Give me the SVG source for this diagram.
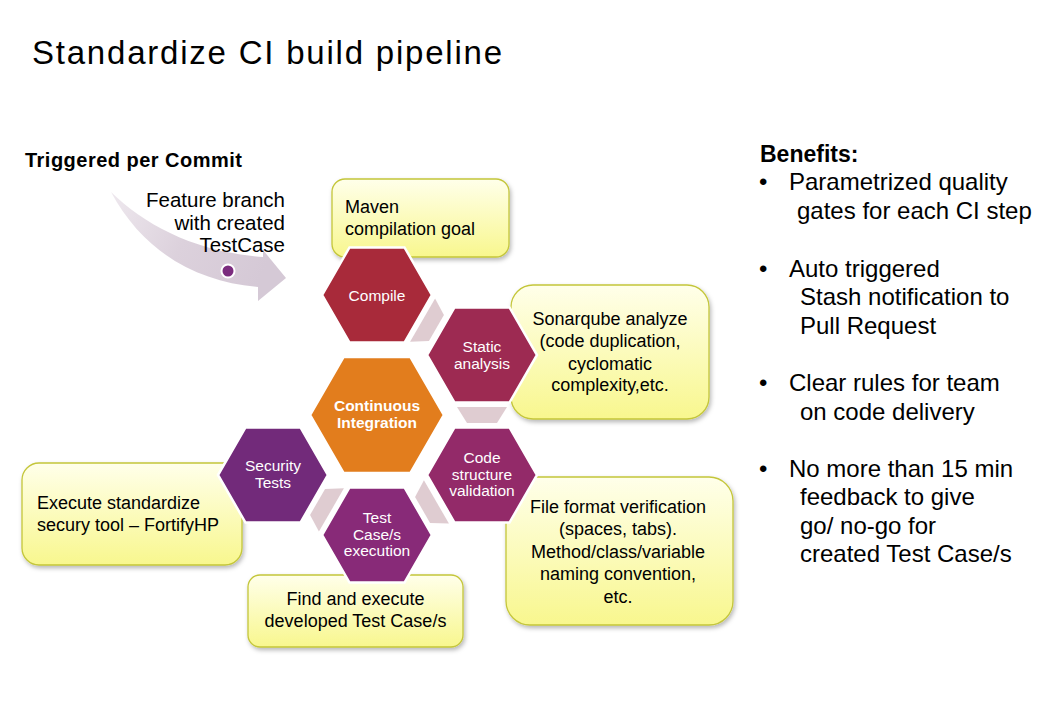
<svg xmlns="http://www.w3.org/2000/svg" width="1040" height="720" viewBox="0 0 1040 720">
<defs>
  <linearGradient id="yel" x1="0" y1="0" x2="0" y2="1">
    <stop offset="0" stop-color="#FFFFEA"/>
    <stop offset="1" stop-color="#F8F78E"/>
  </linearGradient>
  <linearGradient id="arrowGrad" x1="0" y1="0" x2="1" y2="0.3">
    <stop offset="0" stop-color="#EEE8EE"/>
    <stop offset="0.5" stop-color="#DCD1DC"/>
    <stop offset="1" stop-color="#D5C9D6"/>
  </linearGradient>
  <filter id="shadow" x="-10%" y="-10%" width="130%" height="130%">
    <feDropShadow dx="1.5" dy="2.5" stdDeviation="2" flood-color="#000" flood-opacity="0.28"/>
  </filter>
  <style>
    .call{fill:url(#yel);stroke:#C4C63A;stroke-width:1.3;filter:url(#shadow)}
    .ctext{font-family:"Liberation Sans",Arial,sans-serif;font-size:18px;fill:#000}
    .hex{stroke:#fff;stroke-width:2.5}
    .htext{font-family:"Liberation Sans",Arial,sans-serif;font-size:15.5px;fill:#fff;text-anchor:middle}
    .conn{fill:#DFCCD1}
    .ben{font-family:"Liberation Sans",Arial,sans-serif;font-size:24px;fill:#000}
  </style>
</defs>
<rect width="1040" height="720" fill="#fff"/>

<text x="32" y="64" font-family="'Liberation Sans',Arial,sans-serif" font-size="33" textLength="470" lengthAdjust="spacing" fill="#000">Standardize CI build pipeline</text>
<text x="25" y="167" font-family="'Liberation Sans',Arial,sans-serif" font-size="20" font-weight="bold" textLength="217" lengthAdjust="spacing" fill="#000">Triggered per Commit</text>

<g id="trigger-arrow">
  <path d="M111,192 C145,225 195,252 263,257 L263,250 L286,278 L258,301 L258,287 C200,282 145,255 111,192 Z" fill="url(#arrowGrad)"/>
  <circle cx="228" cy="271" r="7.5" fill="#fff"/>
  <circle cx="228" cy="271" r="5.5" fill="#7B2C7E"/>
  <g font-family="'Liberation Sans',Arial,sans-serif" font-size="20.5" text-anchor="end" fill="#000">
    <text x="285" y="207">Feature branch</text>
    <text x="285" y="229.5">with created</text>
    <text x="285" y="251.5">TestCase</text>
  </g>
</g>

<g id="callouts">
  <g id="maven-note">
    <rect class="call" x="332" y="179" width="177" height="78" rx="13"/>
    <text class="ctext" x="345" y="213">Maven</text>
    <text class="ctext" x="345" y="235">compilation goal</text>
  </g>
  <g id="sonar-note">
    <rect class="call" x="511" y="285" width="198" height="134" rx="22"/>
    <g class="ctext" text-anchor="middle">
      <text x="610" y="324.5">Sonarqube analyze</text>
      <text x="610" y="347">(code duplication,</text>
      <text x="610" y="369.5">cyclomatic</text>
      <text x="610" y="391">complexity,etc.</text>
    </g>
  </g>
  <g id="format-note">
    <rect class="call" x="506" y="477" width="227" height="148" rx="24"/>
    <g class="ctext" text-anchor="middle">
      <text x="618" y="512.5">File format verification</text>
      <text x="618" y="535">(spaces, tabs).</text>
      <text x="618" y="557.5">Method/class/variable</text>
      <text x="618" y="580">naming convention,</text>
      <text x="618" y="602.5">etc.</text>
    </g>
  </g>
  <g id="security-note">
    <rect class="call" x="22" y="463" width="220" height="102" rx="17"/>
    <text class="ctext" x="37" y="509">Execute standardize</text>
    <text class="ctext" x="37" y="531">secury tool – FortifyHP</text>
  </g>
  <g id="find-note">
    <rect class="call" x="248" y="575" width="215" height="72" rx="12"/>
    <g class="ctext" text-anchor="middle">
      <text x="355.5" y="605">Find and execute</text>
      <text x="355.5" y="627">developed Test Case/s</text>
    </g>
  </g>
</g>

<g id="connectors">
  <polygon class="conn" points="457,407 507,407 497,423 467,423" transform="rotate(-60 377 415)"/>
  <polygon class="conn" points="457,407 507,407 497,423 467,423"/>
  <polygon class="conn" points="457,407 507,407 497,423 467,423" transform="rotate(60 377 415)"/>
  <polygon class="conn" points="457,407 507,407 497,423 467,423" transform="rotate(120 377 415)"/>
</g>

<g id="compile">
  <polygon class="hex" fill="#A82A3A" points="322,295 349.5,247.4 404.5,247.4 432,295 404.5,342.6 349.5,342.6"/>
  <text class="htext" x="377" y="300.5">Compile</text>
</g>
<g id="static-analysis">
  <polygon class="hex" fill="#9D2A52" points="427,355 454.5,307.4 509.5,307.4 537,355 509.5,402.6 454.5,402.6"/>
  <text class="htext" x="482" y="351.5">Static</text>
  <text class="htext" x="482" y="368.5">analysis</text>
</g>
<g id="code-structure">
  <polygon class="hex" fill="#932A69" points="427,475 454.5,427.4 509.5,427.4 537,475 509.5,522.6 454.5,522.6"/>
  <text class="htext" x="482" y="462.5">Code</text>
  <text class="htext" x="482" y="479.5">structure</text>
  <text class="htext" x="482" y="496">validation</text>
</g>
<g id="test-execution">
  <polygon class="hex" fill="#882A78" points="322,535 349.5,487.4 404.5,487.4 432,535 404.5,582.6 349.5,582.6"/>
  <text class="htext" x="377" y="522.5">Test</text>
  <text class="htext" x="377" y="539.5">Case/s</text>
  <text class="htext" x="377" y="556">execution</text>
</g>
<g id="security-tests">
  <polygon class="hex" fill="#722A7A" points="218,475 245.5,427.4 300.5,427.4 328,475 300.5,522.6 245.5,522.6"/>
  <text class="htext" x="273" y="470.5">Security</text>
  <text class="htext" x="273" y="487.5">Tests</text>
</g>
<g id="continuous-integration">
  <polygon class="hex" fill="#E27D1D" points="310,415 343.5,357 410.5,357 444,415 410.5,473 343.5,473"/>
  <text class="htext" x="377" y="411" font-weight="bold" font-size="16">Continuous</text>
  <text class="htext" x="377" y="428" font-weight="bold" font-size="16">Integration</text>
</g>

<g id="benefits">
  <text x="760" y="161.5" font-family="'Liberation Sans',Arial,sans-serif" font-size="23" font-weight="bold" fill="#000">Benefits:</text>
  <g class="ben">
    <text x="759" y="190">•</text>
    <text x="789" y="190">Parametrized quality</text>
    <text x="797" y="219">gates for each CI step</text>
    <text x="759" y="276.5">•</text>
    <text x="789" y="276.5">Auto triggered</text>
    <text x="800" y="305">Stash notification to</text>
    <text x="800" y="333.5">Pull Request</text>
    <text x="759" y="390.5">•</text>
    <text x="789" y="390.5">Clear rules for team</text>
    <text x="800" y="419.5">on code delivery</text>
    <text x="759" y="476.5">•</text>
    <text x="789" y="476.5">No more than 15 min</text>
    <text x="800" y="505">feedback to give</text>
    <text x="800" y="533.5">go/ no-go for</text>
    <text x="800" y="562">created Test Case/s</text>
  </g>
</g>
</svg>
